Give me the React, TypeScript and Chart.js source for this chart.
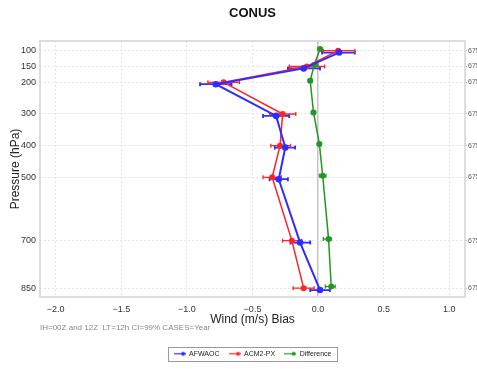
import React, { useEffect, useRef } from "react";
import { Chart, registerables } from "chart.js";

Chart.register(...registerables);

const FONT = "'Liberation Sans', Arial, Helvetica, sans-serif";

// Pressure levels (hPa) and axis ticks
const levels = [100, 150, 200, 300, 400, 500, 700, 850];
const pressureTicks = [100, 150, 200, 300, 400, 500, 700, 850];
const windTicks = [-2.0, -1.5, -1.0, -0.5, 0.0, 0.5, 1.0];
const sampleCounts = ["6750", "6750", "6750", "6750", "6750", "6750", "6750", "6750"];

// AFWAOC wind bias with confidence interval
const afwaoc = [0.16, -0.11, -0.78, -0.32, -0.25, -0.30, -0.137, 0.015];
const afwaocLo = [0.03, -0.23, -0.90, -0.42, -0.33, -0.37, -0.21, -0.06];
const afwaocHi = [0.28, 0.015, -0.66, -0.22, -0.175, -0.23, -0.06, 0.09];

// ACM2-PX wind bias with confidence interval
const acm2 = [0.153, -0.086, -0.72, -0.27, -0.29, -0.35, -0.20, -0.11];
const acm2Lo = [0.04, -0.22, -0.84, -0.37, -0.36, -0.42, -0.27, -0.19];
const acm2Hi = [0.28, 0.05, -0.60, -0.17, -0.21, -0.28, -0.125, -0.03];

// Difference
const diff = [0.015, -0.03, -0.06, -0.035, 0.01, 0.035, 0.08, 0.10];
const diffLo = [0.0, -0.05, -0.075, -0.05, -0.005, 0.01, 0.04, 0.055];
const diffHi = [0.03, 0.0, -0.045, -0.02, 0.025, 0.06, 0.10, 0.13];

// small vertical offsets (hPa) used by the original to separate series
const blueOffset = 6;
const redOffset = 0;
const greenOffset = -5;

const BLUE = "rgb(45,45,255)";
const RED = "rgb(255,35,35)";
const GREEN = "rgb(35,150,35)";

function makeLegendIcon(color: string): HTMLCanvasElement {
  const c = document.createElement("canvas");
  c.width = 12;
  c.height = 7;
  const g = c.getContext("2d")!;
  g.strokeStyle = color;
  g.lineWidth = 1.2;
  g.beginPath();
  g.moveTo(0, 3.5);
  g.lineTo(12, 3.5);
  g.stroke();
  g.fillStyle = color;
  g.beginPath();
  g.arc(9.5, 3.5, 2, 0, Math.PI * 2);
  g.fill();
  return c;
}

const errorBars: { [k: number]: { lo: number[]; hi: number[]; off: number; w: number } } = {
  0: { lo: afwaocLo, hi: afwaocHi, off: blueOffset, w: 1.8 },
  1: { lo: acm2Lo, hi: acm2Hi, off: redOffset, w: 1.3 },
  2: { lo: diffLo, hi: diffHi, off: greenOffset, w: 1.3 },
};

const errorBarPlugin = {
  id: "errorBarsPlugin",
  beforeDatasetsDraw(chart: any) {
    const { ctx, chartArea } = chart;
    const xs = chart.scales.x;
    const ys = chart.scales.y;
    // plot frame
    ctx.save();
    ctx.strokeStyle = "#dddddd";
    ctx.lineWidth = 2;
    ctx.strokeRect(chartArea.left, chartArea.top, chartArea.right - chartArea.left, chartArea.bottom - chartArea.top);
    ctx.restore();
    chart.data.datasets.forEach((ds: any, i: number) => {
      const eb = errorBars[i];
      if (!eb) return;
      ctx.save();
      ctx.strokeStyle = ds.borderColor;
      ctx.lineWidth = eb.w;
      levels.forEach((p, j) => {
        const y = ys.getPixelForValue(p + eb.off);
        const x1 = xs.getPixelForValue(eb.lo[j]);
        const x2 = xs.getPixelForValue(eb.hi[j]);
        ctx.beginPath();
        ctx.moveTo(x1, y);
        ctx.lineTo(x2, y);
        ctx.moveTo(x1, y - 2);
        ctx.lineTo(x1, y + 2);
        ctx.moveTo(x2, y - 2);
        ctx.lineTo(x2, y + 2);
        ctx.stroke();
      });
      ctx.restore();
    });
  },
  afterDraw(chart: any) {
    const lg = chart.legend;
    if (!lg || !lg.legendHitBoxes || !lg.legendHitBoxes.length) return;
    const boxes = lg.legendHitBoxes;
    const first = boxes[0];
    const last = boxes[boxes.length - 1];
    const { ctx } = chart;
    ctx.save();
    ctx.strokeStyle = "#9a9a9a";
    ctx.lineWidth = 1;
    const l = first.left - 6;
    const r = last.left + last.width + 5;
    const t = first.top - 3.5;
    const b = first.top + first.height + 3.5;
    ctx.strokeRect(Math.round(l) + 0.5, Math.round(t) + 0.5, Math.round(r - l), Math.round(b - t));
    ctx.restore();
  },
};

function fmtWind(v: number): string {
  return v.toFixed(1).replace("-", "\u2212");
}

export default function App() {
  const ref = useRef<HTMLCanvasElement>(null);
  useEffect(() => {
    Chart.defaults.font.family = FONT;
    const icons = [makeLegendIcon(BLUE), makeLegendIcon(RED), makeLegendIcon(GREEN)];
    const chart = new Chart(ref.current!, {
      type: "line",
      data: {
        datasets: [
          {
            label: "AFWAOC",
            data: levels.map((p, i) => ({ x: afwaoc[i], y: p + blueOffset })),
            borderColor: BLUE,
            backgroundColor: BLUE,
            borderWidth: 2,
            pointRadius: 3.3,
            pointBorderWidth: 0,
          },
          {
            label: "ACM2-PX",
            data: levels.map((p, i) => ({ x: acm2[i], y: p + redOffset })),
            borderColor: RED,
            backgroundColor: RED,
            borderWidth: 1.5,
            pointRadius: 3,
            pointBorderWidth: 0,
          },
          {
            label: "Difference",
            data: levels.map((p, i) => ({ x: diff[i], y: p + greenOffset })),
            borderColor: GREEN,
            backgroundColor: GREEN,
            borderWidth: 1.5,
            pointRadius: 3,
            pointBorderWidth: 0,
          },
        ],
      },
      options: {
        responsive: false,
        animation: false,
        devicePixelRatio: 1,
        layout: { padding: { left: 0, right: 0, top: 0, bottom: 1.7 } },
        scales: {
          x: {
            type: "linear",
            position: "bottom",
            min: -2.12,
            max: 1.12,
            afterBuildTicks: (s: any) => {
              s.ticks = windTicks.map((v) => ({ value: v }));
            },
            afterFit: (s: any) => {
              s.height = 30;
            },
            ticks: {
              callback: (v: any) => fmtWind(Number(v)),
              font: { size: 9, family: FONT },
              color: "#333",
              padding: 7,
              maxRotation: 0,
            },
            grid: {
              color: (c: any) => (c.tick && c.tick.value === 0 ? "#c4c4c4" : "#e4e4e4"),
              lineWidth: (c: any) => (c.tick && c.tick.value === 0 ? 1.5 : 1),
              drawTicks: false,
            },
            border: {
              display: false,
              dash: (c: any) => (c.tick && c.tick.value === 0 ? [] : [2, 2]),
            },
            title: {
              display: true,
              text: "Wind (m/s) Bias",
              font: { size: 12, family: FONT },
              color: "#222",
              padding: { top: 0, bottom: 0 },
            },
          },
          y: {
            type: "linear",
            position: "left",
            reverse: true,
            min: 69.5,
            max: 878,
            afterBuildTicks: (s: any) => {
              s.ticks = pressureTicks.map((v) => ({ value: v }));
            },
            afterFit: (s: any) => {
              s.width = 40;
            },
            ticks: {
              callback: (v: any) => String(v),
              font: { size: 9, family: FONT },
              color: "#333",
              padding: 4,
            },
            grid: { color: "#e4e4e4", drawTicks: false },
            border: { display: false, dash: [2, 2] },
            title: {
              display: true,
              text: "Pressure (hPa)",
              font: { size: 12, family: FONT },
              color: "#222",
              padding: { top: 8, bottom: 0 },
            },
          },
          y2: {
            type: "linear",
            position: "right",
            reverse: true,
            min: 69.5,
            max: 878,
            afterBuildTicks: (s: any) => {
              s.ticks = pressureTicks.map((v) => ({ value: v }));
            },
            afterFit: (s: any) => {
              s.width = 12;
            },
            ticks: {
              callback: (_v: any, i: number) => sampleCounts[i],
              font: { size: 7, family: FONT },
              color: "#555",
              padding: 1,
            },
            grid: { display: true, drawOnChartArea: false, drawTicks: true, tickLength: 2, color: "#aaa" },
            border: { display: false },
          },
        },
        plugins: {
          tooltip: { enabled: false },
          title: {
            display: true,
            text: "CONUS",
            fullSize: false,
            font: { size: 13, weight: "bold", family: FONT },
            color: "#111",
            padding: { top: 6, bottom: 19.4 },
          },
          subtitle: {
            display: true,
            position: "bottom",
            align: "start",
            fullSize: false,
            text: "IH=00Z and 12Z  LT=12h CI=99% CASES=Year",
            font: { size: 8, family: FONT },
            color: "#888",
            padding: { top: -3.8, bottom: 8.5 },
          },
          legend: {
            display: true,
            position: "bottom",
            fullSize: false,
            weight: 3000,
            labels: {
              usePointStyle: true,
              pointStyleWidth: 12,
              boxHeight: 7,
              font: { size: 7, family: FONT },
              color: "#222",
              padding: 9,
              generateLabels: (ch: any) => {
                const items = Chart.defaults.plugins.legend.labels.generateLabels(ch);
                return items.map((it: any, i: number) => ({ ...it, pointStyle: icons[i] }));
              },
            },
          } as any,
        },
      } as any,
      plugins: [errorBarPlugin],
    });
    return () => chart.destroy();
  }, []);
  return (
    <div style={{ position: "absolute", left: 0, top: 0, width: 477, height: 369, background: "#fff", overflow: "hidden" }}>
      <canvas ref={ref} width={477} height={369} style={{ display: "block" }} />
    </div>
  );
}
